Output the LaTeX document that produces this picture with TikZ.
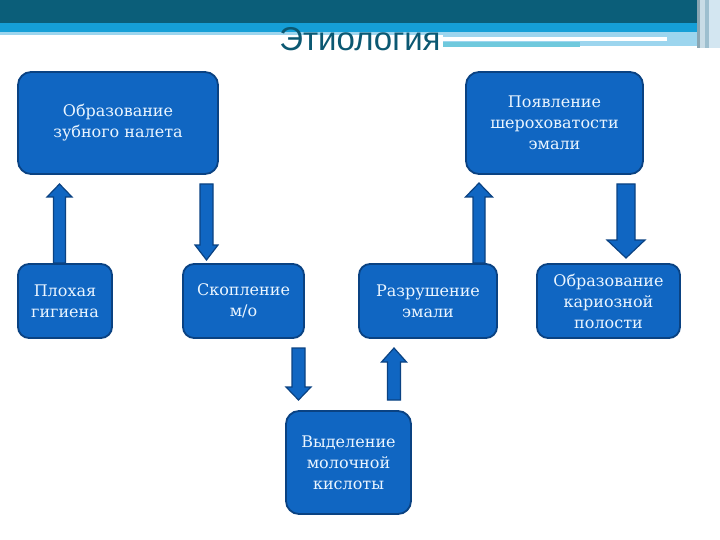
\documentclass[tikz,border=0pt]{standalone}
\usepackage{fontspec}
\setmainfont{DejaVu Serif}
\newfontfamily\titlefont{Liberation Sans}
\definecolor{hdrdark}{HTML}{0B5E79}
\definecolor{hdrblue}{HTML}{159FD7}
\definecolor{hdrpale}{HTML}{9CD5EE}
\definecolor{hdrcyan}{HTML}{6FC9DD}
\definecolor{vsa}{HTML}{8AA6B3}
\definecolor{vsb}{HTML}{C8DCE6}
\definecolor{vsc}{HTML}{9DBFCF}
\definecolor{vsd}{HTML}{D3E6F1}
\definecolor{boxfill}{HTML}{1066C2}
\definecolor{boxedge}{HTML}{0A4282}
\definecolor{boxtext}{HTML}{EAF5FF}
\definecolor{titlecol}{HTML}{0B5872}
\newcommand{\blockarrow}[6]{% x, y0 (tail), yb (head base), y1 (tip), shaft half, head half
  \fill[boxfill,draw=boxedge,line width=1.2pt,line join=miter]
    (#1-#5,#2) -- (#1-#5,#3) -- (#1-#6,#3) -- (#1,#4) -- (#1+#6,#3) -- (#1+#5,#3) -- (#1+#5,#2) -- cycle;}
\tikzset{
  cbox/.style={draw=boxedge,line width=1.8pt,fill=boxfill,rounded corners=13pt,
    text=boxtext,align=center,font=\fontsize{16}{21}\selectfont,inner sep=0pt}
}
\begin{document}
\begin{tikzpicture}[x=1pt,y=-1pt]
\useasboundingbox (0,0) rectangle (720,540);
% header
\fill[hdrdark] (0,0) rectangle (697,23);
\fill[hdrblue] (0,23) rectangle (697,32);
\fill[hdrpale] (0,32) rectangle (697,35);
\fill[hdrpale] (443,35) rectangle (697,46);
\fill[white] (443,37.5) rectangle (667,41);
\fill[hdrcyan] (443,42) rectangle (580,47);
\fill[vsa] (697,0) rectangle (700,48);
\fill[vsb] (700,0) rectangle (705,48);
\fill[vsc] (705,0) rectangle (709,48);
\fill[vsd] (709,0) rectangle (720,48);
\node[text=titlecol,font=\titlefont\fontsize{33}{36}\selectfont,inner sep=0pt,anchor=base] (title) at (360,51) {Этиология};
% boxes
\node[cbox,minimum width=200pt,minimum height=102pt] (b1) at (118,123) {Образование\\зубного налета};
\node[cbox,minimum width=177pt,minimum height=102pt] (b2) at (554.5,123) {Появление\\шероховатости\\эмали};
\node[cbox,rounded corners=11pt,minimum width=94pt,minimum height=74pt] (b3) at (65,301) {Плохая\\гигиена};
\node[cbox,rounded corners=11pt,minimum width=121pt,minimum height=74pt] (b4) at (243.5,301) {Скопление\\м/о};
\node[cbox,rounded corners=11pt,minimum width=138pt,minimum height=74pt] (b5) at (428,301) {Разрушение\\эмали};
\node[cbox,rounded corners=11pt,minimum width=143pt,minimum height=74pt] (b6) at (608.5,301) {Образование\\кариозной\\полости};
\node[cbox,minimum width=125pt,minimum height=103pt] (b7) at (348.5,462.5) {Выделение\\молочной\\кислоты};
% arrows
\blockarrow{59.5}{263}{197}{184}{6}{12.5}
\blockarrow{206.5}{184}{245}{260}{6.5}{11.5}
\blockarrow{479}{263}{197}{183}{6}{13.5}
\blockarrow{626}{184}{240}{258}{9}{19}
\blockarrow{298.5}{348}{387}{400}{6.5}{12.5}
\blockarrow{394}{400}{362}{348}{6.5}{12.5}
\end{tikzpicture}
\end{document}
